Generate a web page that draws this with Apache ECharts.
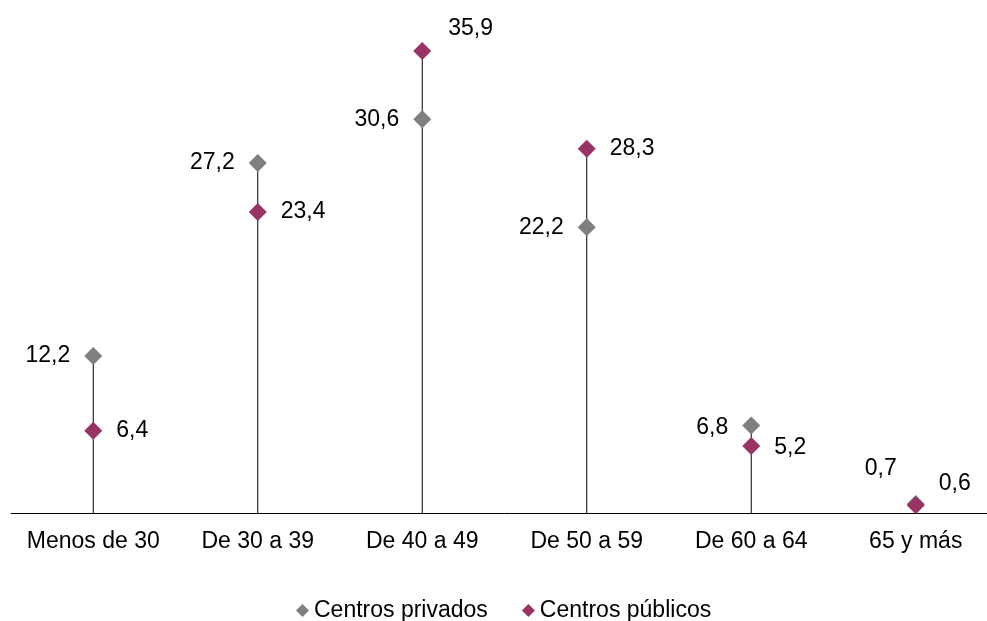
<!DOCTYPE html>
<html>
<head>
<meta charset="utf-8">
<script src="https://cdn.jsdelivr.net/npm/echarts@6/dist/echarts.min.js"></script>
<style>html,body{margin:0;padding:0;background:#fff;overflow:hidden}#c{width:998px;height:621px}</style>
</head>
<body>
<div id="c"></div>
<script>
var categories = ['Menos de 30', 'De 30 a 39', 'De 40 a 49', 'De 50 a 59', 'De 60 a 64', '65 y más'];
var privados = [12.2, 27.2, 30.6, 22.2, 6.8, 0.7];
var publicos = [6.4, 23.4, 35.9, 28.3, 5.2, 0.6];
var seriesNames = ['Centros privados', 'Centros públicos'];

// label placement tweaks (styles, separate from data)
var privOffsets = [[0,0],[0,0],[0,0],[0,0],[0,2],[4,-35]];
var pubOffsets = [[0,0],[0,0],[3,-22],[0,0],[0,2],[0,-22]];

var FONT = 'Liberation Sans, Arial, sans-serif';
var FS = 23;
var stems = categories.map(function(c, i){ return Math.max(privados[i], publicos[i]); });

var chart = echarts.init(document.getElementById('c'));
chart.setOption({
  animation: false,
  grid: { left: 11, right: 0, top: 24, bottom: 108, containLabel: false },
  xAxis: {
    type: 'category',
    data: categories,
    axisLine: { lineStyle: { color: '#000', width: 1 } },
    axisTick: { show: false },
    axisLabel: { color: '#000', fontSize: FS, fontFamily: FONT, margin: 17, interval: 0 }
  },
  yAxis: { type: 'value', min: 0, max: 38, show: false, splitLine: { show: false } },
  legend: {
    data: seriesNames,
    top: 594,
    left: 291,
    itemWidth: 13,
    itemHeight: 13,
    itemGap: 34,
    textStyle: { color: '#000', fontSize: FS, fontFamily: FONT, padding: [0,0,0,0] }
  },
  series: [
    {
      type: 'bar',
      data: stems,
      barWidth: 1,
      itemStyle: { color: '#000' },
      silent: true,
      z: 1
    },
    {
      name: seriesNames[0],
      type: 'scatter',
      symbol: 'diamond',
      symbolSize: 18,
      itemStyle: { color: '#7f7f7f', opacity: 1 },
      z: 3,
      data: privados.map(function(v, i){
        return { value: v, label: { offset: privOffsets[i] } };
      }),
      label: {
        show: true, position: 'left', distance: 14,
        color: '#000', fontSize: FS, fontFamily: FONT, textBorderWidth: 0,
        formatter: function(p){ return String(p.value).replace('.', ','); }
      }
    },
    {
      name: seriesNames[1],
      type: 'scatter',
      symbol: 'diamond',
      symbolSize: 18,
      itemStyle: { color: '#993366', opacity: 1 },
      z: 4,
      data: publicos.map(function(v, i){
        return { value: v, label: { offset: pubOffsets[i] } };
      }),
      label: {
        show: true, position: 'right', distance: 14,
        color: '#000', fontSize: FS, fontFamily: FONT, textBorderWidth: 0,
        formatter: function(p){ return String(p.value).replace('.', ','); }
      }
    }
  ]
});
</script>
</body>
</html>
